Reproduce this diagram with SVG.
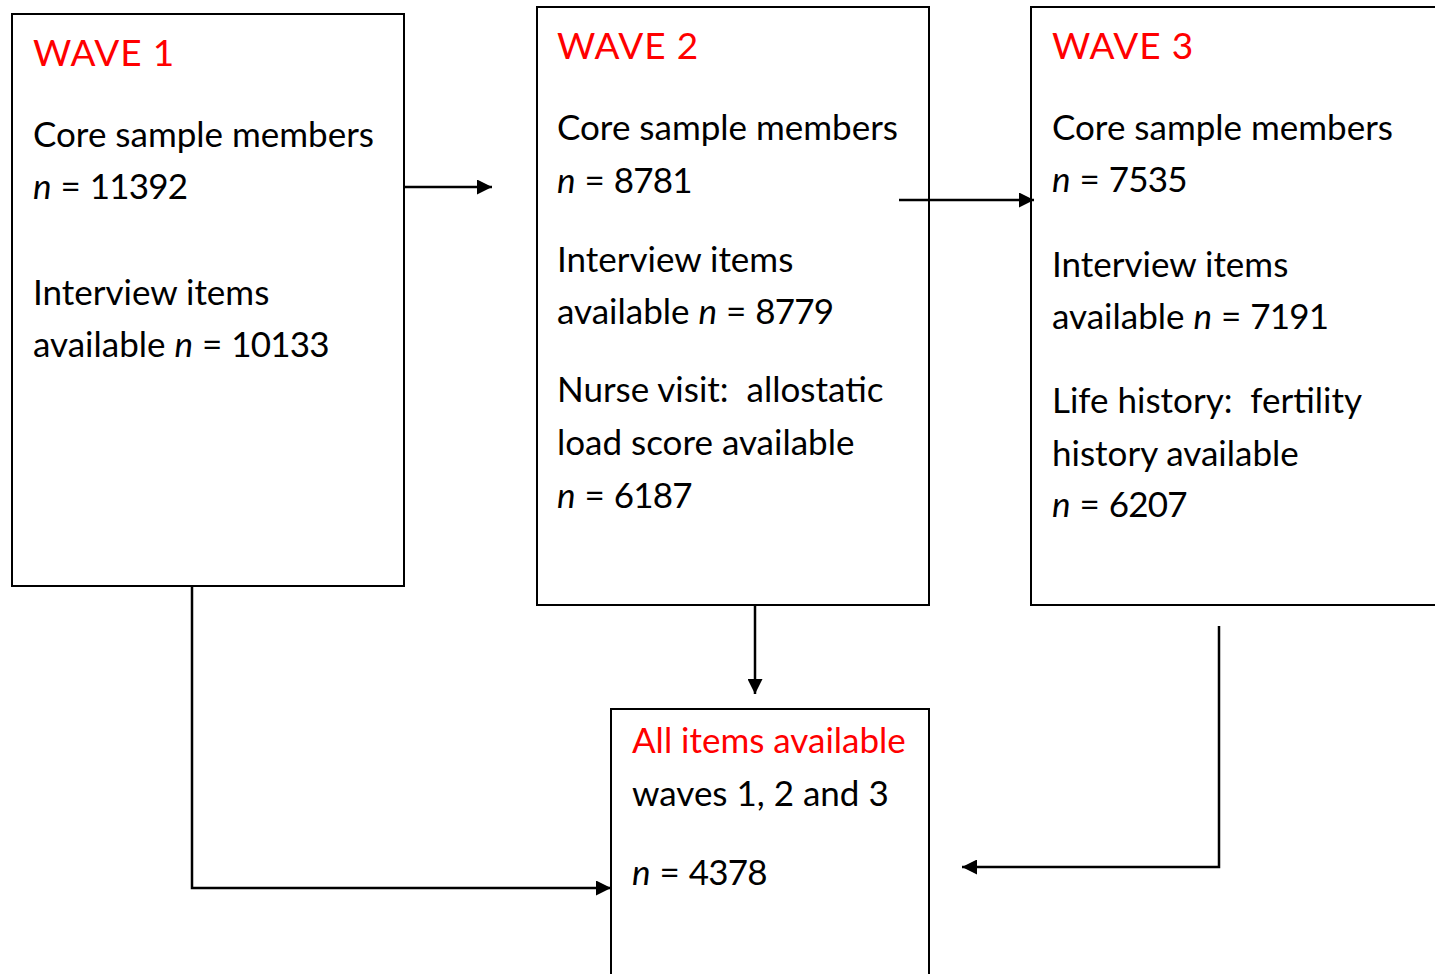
<svg xmlns="http://www.w3.org/2000/svg" width="1435" height="974" viewBox="0 0 1435 974">
<style>
.box{fill:#fff;stroke:#000;stroke-width:2}
text{font-family:Lato,"Open Sans","Liberation Sans",sans-serif;font-size:35px;fill:#000;white-space:pre}
.red{fill:#ff0000}
.t{font-size:37px;letter-spacing:0.8px}
.i{font-style:italic}
.num{letter-spacing:-0.8px}
.ln{fill:none;stroke:#000;stroke-width:2.5}
</style>
<defs>
<marker id="ah" viewBox="0 0 10 10" refX="10" refY="5" markerWidth="16" markerHeight="15" markerUnits="userSpaceOnUse" orient="auto">
<path d="M0,0 L10,5 L0,10 z" fill="#000"/>
</marker>
</defs>
<g id="wave1">
<rect class="box" x="12" y="14" width="392" height="572"/>
<text x="33" y="66" class="red t">WAVE 1</text>
<text x="33" y="147">Core sample members</text>
<text x="33" y="199"><tspan class="i">n</tspan> = <tspan class="num">11392</tspan></text>
<text x="33" y="305">Interview items</text>
<text x="33" y="357">available <tspan class="i">n</tspan> = <tspan class="num">10133</tspan></text>
</g>
<g id="wave2">
<rect class="box" x="537" y="7" width="392" height="598"/>
<text x="557" y="59" class="red t">WAVE 2</text>
<text x="557" y="140">Core sample members</text>
<text x="557" y="193"><tspan class="i">n</tspan> = <tspan class="num">8781</tspan></text>
<text x="557" y="272">Interview items</text>
<text x="557" y="324">available <tspan class="i">n</tspan> = <tspan class="num">8779</tspan></text>
<text x="557" y="402" xml:space="preserve">Nurse visit:  allostatic</text>
<text x="557" y="455">load score available</text>
<text x="557" y="508"><tspan class="i">n</tspan> = <tspan class="num">6187</tspan></text>
</g>
<g id="wave3">
<rect class="box" x="1031" y="7" width="420" height="598"/>
<text x="1052" y="59" class="red t">WAVE 3</text>
<text x="1052" y="140">Core sample members</text>
<text x="1052" y="192"><tspan class="i">n</tspan> = <tspan class="num">7535</tspan></text>
<text x="1052" y="277">Interview items</text>
<text x="1052" y="329">available <tspan class="i">n</tspan> = <tspan class="num">7191</tspan></text>
<text x="1052" y="413" xml:space="preserve">Life history:  fertility</text>
<text x="1052" y="466">history available</text>
<text x="1052" y="517"><tspan class="i">n</tspan> = <tspan class="num">6207</tspan></text>
</g>
<g id="all">
<rect class="box" x="611" y="709" width="318" height="280"/>
<text x="632" y="753" class="red">All items available</text>
<text x="632" y="806">waves 1, 2 and 3</text>
<text x="632" y="885"><tspan class="i">n</tspan> = <tspan class="num">4378</tspan></text>
</g>
<g id="connectors">
<line class="ln" x1="404" y1="187" x2="492" y2="187" marker-end="url(#ah)"/>
<line class="ln" x1="899" y1="200" x2="1034" y2="200" marker-end="url(#ah)"/>
<line class="ln" x1="755" y1="605" x2="755" y2="694" marker-end="url(#ah)"/>
<polyline class="ln" points="192,586 192,888 611,888" marker-end="url(#ah)"/>
<polyline class="ln" points="1219,626 1219,867 962,867" marker-end="url(#ah)"/>
</g>
</svg>
